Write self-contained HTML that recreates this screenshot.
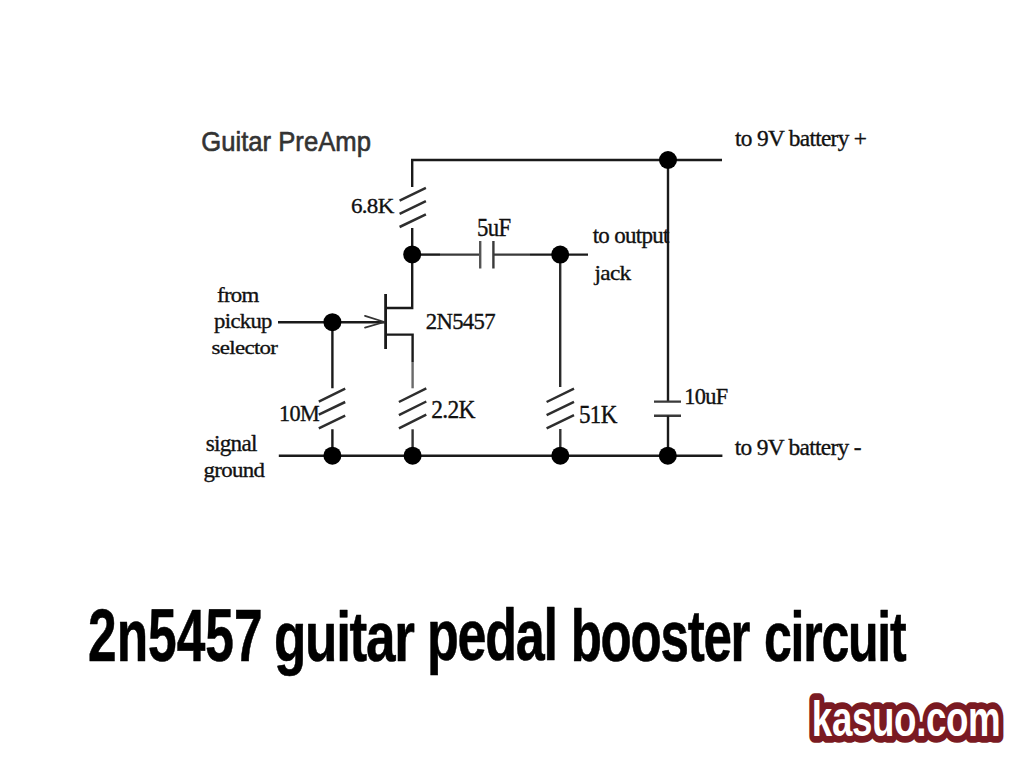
<!DOCTYPE html>
<html><head><meta charset="utf-8">
<style>
html,body{margin:0;padding:0;background:#fff;}
body{width:1024px;height:768px;overflow:hidden;}
svg{display:block;}
.w{stroke:#1a1a1a;stroke-width:2.4;fill:none;}
.g{stroke:#3a3a3a;stroke-width:2.4;fill:none;}
.d{fill:#000;}
.z{stroke:#2e2e2e;stroke-width:2.5;fill:none;}
</style></head>
<body>
<svg width="1024" height="768" viewBox="0 0 1024 768">
<path class="w" d="M412.2 187 V160 H722"/>
<path class="w" d="M668 160 V401.6"/>
<path class="g" d="M654 401.6 H681 M654 415.7 H681"/>
<path class="w" d="M668 415.7 V455.7"/>
<path class="z" d="M399.6 200.6 L425.9 187.9 M399.6 213.8 L425.9 201.1 M399.6 227 L425.9 214.3"/>
<path class="w" d="M412.2 228 V308 H385.6"/>
<path class="w" d="M412.2 254.6 H440"/>
<path class="g" d="M440 254.6 H480.2 M493.4 254.6 H530"/>
<path class="w" d="M530 254.6 H588"/>
<path class="g" d="M480.2 241 V268.5" style="stroke:#555"/>
<path class="g" d="M493.4 241 V268.5"/>
<path class="w" d="M560.2 254.6 V387" style="stroke:#2a2a2a"/>
<path class="w" d="M385.6 294 V349" style="stroke-width:2.8"/>
<path class="w" d="M278 322.2 H385"/>
<path class="g" d="M365 315.8 L384.4 322 L365 327.6" style="stroke-width:1.8;stroke-linejoin:round;stroke-linecap:round;stroke:#333"/>
<path class="w" d="M385.6 334.6 H412.6 V362"/>
<path class="g" d="M412.6 362 V388.3" style="stroke:#6a6a6a"/>
<path class="w" d="M332.4 322.2 V388.3 M332.4 429.3 V455.7"/>
<path class="z" d="M318.8 401.6 L345.2 388.7 M318.8 414.7 L345.2 402 M318.8 428.4 L345.2 415.7"/>
<path class="z" d="M398.9 402 L426.3 388.3 M398.9 415.2 L426.3 401.5 M398.9 428.4 L426.3 414.7"/>
<path class="w" d="M412.6 429.3 V455.7" style="stroke:#333"/>
<path class="z" d="M546.6 402 L574 388.7 M546.6 415.2 L574 401.9 M546.6 428.4 L574 415.1"/>
<path class="w" d="M560.3 429 V455.7" style="stroke:#333"/>
<path class="w" d="M278.8 455.7 H722.4"/>
<circle class="d" cx="668" cy="160" r="9"/>
<circle class="d" cx="412.2" cy="254.4" r="9"/>
<circle class="d" cx="560.2" cy="254.6" r="9"/>
<circle class="d" cx="332.4" cy="322.2" r="9"/>
<circle class="d" cx="332.4" cy="455.7" r="9"/>
<circle class="d" cx="412.6" cy="455.7" r="9"/>
<circle class="d" cx="560.3" cy="455.7" r="9"/>
<circle class="d" cx="667.8" cy="455.7" r="9"/>

<text transform="matrix(0.25675 0 0 0.28298 201.22 150.76)" font-family="Liberation Sans" font-weight="normal" font-size="100" letter-spacing="0" fill="#333" stroke="#333" stroke-width="2.23" stroke-linejoin="round">Guitar PreAmp</text>
<text transform="matrix(0.23354 0 0 0.22389 735.04 146.42)" font-family="Liberation Serif" font-weight="normal" font-size="100" letter-spacing="-3" fill="#111" stroke="#111" stroke-width="1.53" stroke-linejoin="round">to 9V battery +</text>
<text transform="matrix(0.23033 0 0 0.22015 350.95 213.18)" font-family="Liberation Serif" font-weight="normal" font-size="100" letter-spacing="-3" fill="#111" stroke="#111" stroke-width="1.55" stroke-linejoin="round">6.8K</text>
<text transform="matrix(0.22750 0 0 0.26136 477.11 236.16)" font-family="Liberation Serif" font-weight="normal" font-size="100" letter-spacing="-3" fill="#111" stroke="#111" stroke-width="1.44" stroke-linejoin="round">5uF</text>
<text transform="matrix(0.22958 0 0 0.22922 592.65 243.31)" font-family="Liberation Serif" font-weight="normal" font-size="100" letter-spacing="-3" fill="#111" stroke="#111" stroke-width="1.53" stroke-linejoin="round">to output</text>
<text transform="matrix(0.23281 0 0 0.21944 594.57 279.72)" font-family="Liberation Serif" font-weight="normal" font-size="100" letter-spacing="-3" fill="#111" stroke="#111" stroke-width="1.55" stroke-linejoin="round">jack</text>
<text transform="matrix(0.22845 0 0 0.20903 216.99 302.32)" font-family="Liberation Serif" font-weight="normal" font-size="100" letter-spacing="-3" fill="#111" stroke="#111" stroke-width="1.60" stroke-linejoin="round">from</text>
<text transform="matrix(0.22689 0 0 0.21056 214.12 328.00)" font-family="Liberation Serif" font-weight="normal" font-size="100" letter-spacing="-3" fill="#111" stroke="#111" stroke-width="1.60" stroke-linejoin="round">pickup</text>
<text transform="matrix(0.22895 0 0 0.19643 211.56 353.63)" font-family="Liberation Serif" font-weight="normal" font-size="100" letter-spacing="-3" fill="#111" stroke="#111" stroke-width="1.65" stroke-linejoin="round">selector</text>
<text transform="matrix(0.22683 0 0 0.23864 425.87 328.89)" font-family="Liberation Serif" font-weight="normal" font-size="100" letter-spacing="-3" fill="#111" stroke="#111" stroke-width="1.50" stroke-linejoin="round">2N5457</text>
<text transform="matrix(0.22251 0 0 0.24044 278.97 421.04)" font-family="Liberation Serif" font-weight="normal" font-size="100" letter-spacing="-3" fill="#111" stroke="#111" stroke-width="1.51" stroke-linejoin="round">10M</text>
<text transform="matrix(0.23525 0 0 0.24773 431.23 418.28)" font-family="Liberation Serif" font-weight="normal" font-size="100" letter-spacing="-3" fill="#111" stroke="#111" stroke-width="1.45" stroke-linejoin="round">2.2K</text>
<text transform="matrix(0.23113 0 0 0.25149 578.99 423.17)" font-family="Liberation Serif" font-weight="normal" font-size="100" letter-spacing="-3" fill="#111" stroke="#111" stroke-width="1.45" stroke-linejoin="round">51K</text>
<text transform="matrix(0.22364 0 0 0.24044 684.36 403.64)" font-family="Liberation Serif" font-weight="normal" font-size="100" letter-spacing="-3" fill="#111" stroke="#111" stroke-width="1.51" stroke-linejoin="round">10uF</text>
<text transform="matrix(0.23188 0 0 0.22722 205.65 450.85)" font-family="Liberation Serif" font-weight="normal" font-size="100" letter-spacing="-3" fill="#111" stroke="#111" stroke-width="1.52" stroke-linejoin="round">signal</text>
<text transform="matrix(0.22871 0 0 0.21167 203.56 476.98)" font-family="Liberation Serif" font-weight="normal" font-size="100" letter-spacing="-3" fill="#111" stroke="#111" stroke-width="1.59" stroke-linejoin="round">ground</text>
<text transform="matrix(0.23399 0 0 0.22389 734.74 454.82)" font-family="Liberation Serif" font-weight="normal" font-size="100" letter-spacing="-3" fill="#111" stroke="#111" stroke-width="1.53" stroke-linejoin="round">to 9V battery -</text>
<text transform="matrix(0.51476 0 0 0.73944 88.01 661.01)" font-family="Liberation Sans" font-weight="bold" font-size="100" letter-spacing="0" fill="#000" stroke="#000" stroke-width="0.81" stroke-linejoin="round">2n5457</text>
<text transform="matrix(0.53115 0 0 0.69787 273.93 660.69)" font-family="Liberation Sans" font-weight="bold" font-size="100" letter-spacing="-2.5" fill="#000" stroke="#000" stroke-width="0.82" stroke-linejoin="round">guitar</text>
<text transform="matrix(0.52110 0 0 0.71489 427.10 660.34)" font-family="Liberation Sans" font-weight="bold" font-size="100" letter-spacing="-2.5" fill="#000" stroke="#000" stroke-width="0.82" stroke-linejoin="round">pedal</text>
<text transform="matrix(0.51137 0 0 0.72973 570.67 660.82)" font-family="Liberation Sans" font-weight="bold" font-size="100" letter-spacing="-2.5" fill="#000" stroke="#000" stroke-width="0.82" stroke-linejoin="round">booster</text>
<text transform="matrix(0.50036 0 0 0.70676 763.95 660.84)" font-family="Liberation Sans" font-weight="bold" font-size="100" letter-spacing="-2.5" fill="#000" stroke="#000" stroke-width="0.84" stroke-linejoin="round">circuit</text>
<text transform="matrix(0.36727 0 0 0.50676 811.83 736.29)" font-family="Liberation Sans" font-weight="bold" font-size="100" letter-spacing="-1" fill="#7a1a22" stroke="#7a1a22" stroke-width="12" vector-effect="non-scaling-stroke" stroke-linejoin="round">kasuo.com</text>
<text transform="matrix(0.36727 0 0 0.50676 811.83 736.29)" font-family="Liberation Sans" font-weight="bold" font-size="100" letter-spacing="-1" fill="#fff">kasuo.com</text>
</svg>
</body></html>
